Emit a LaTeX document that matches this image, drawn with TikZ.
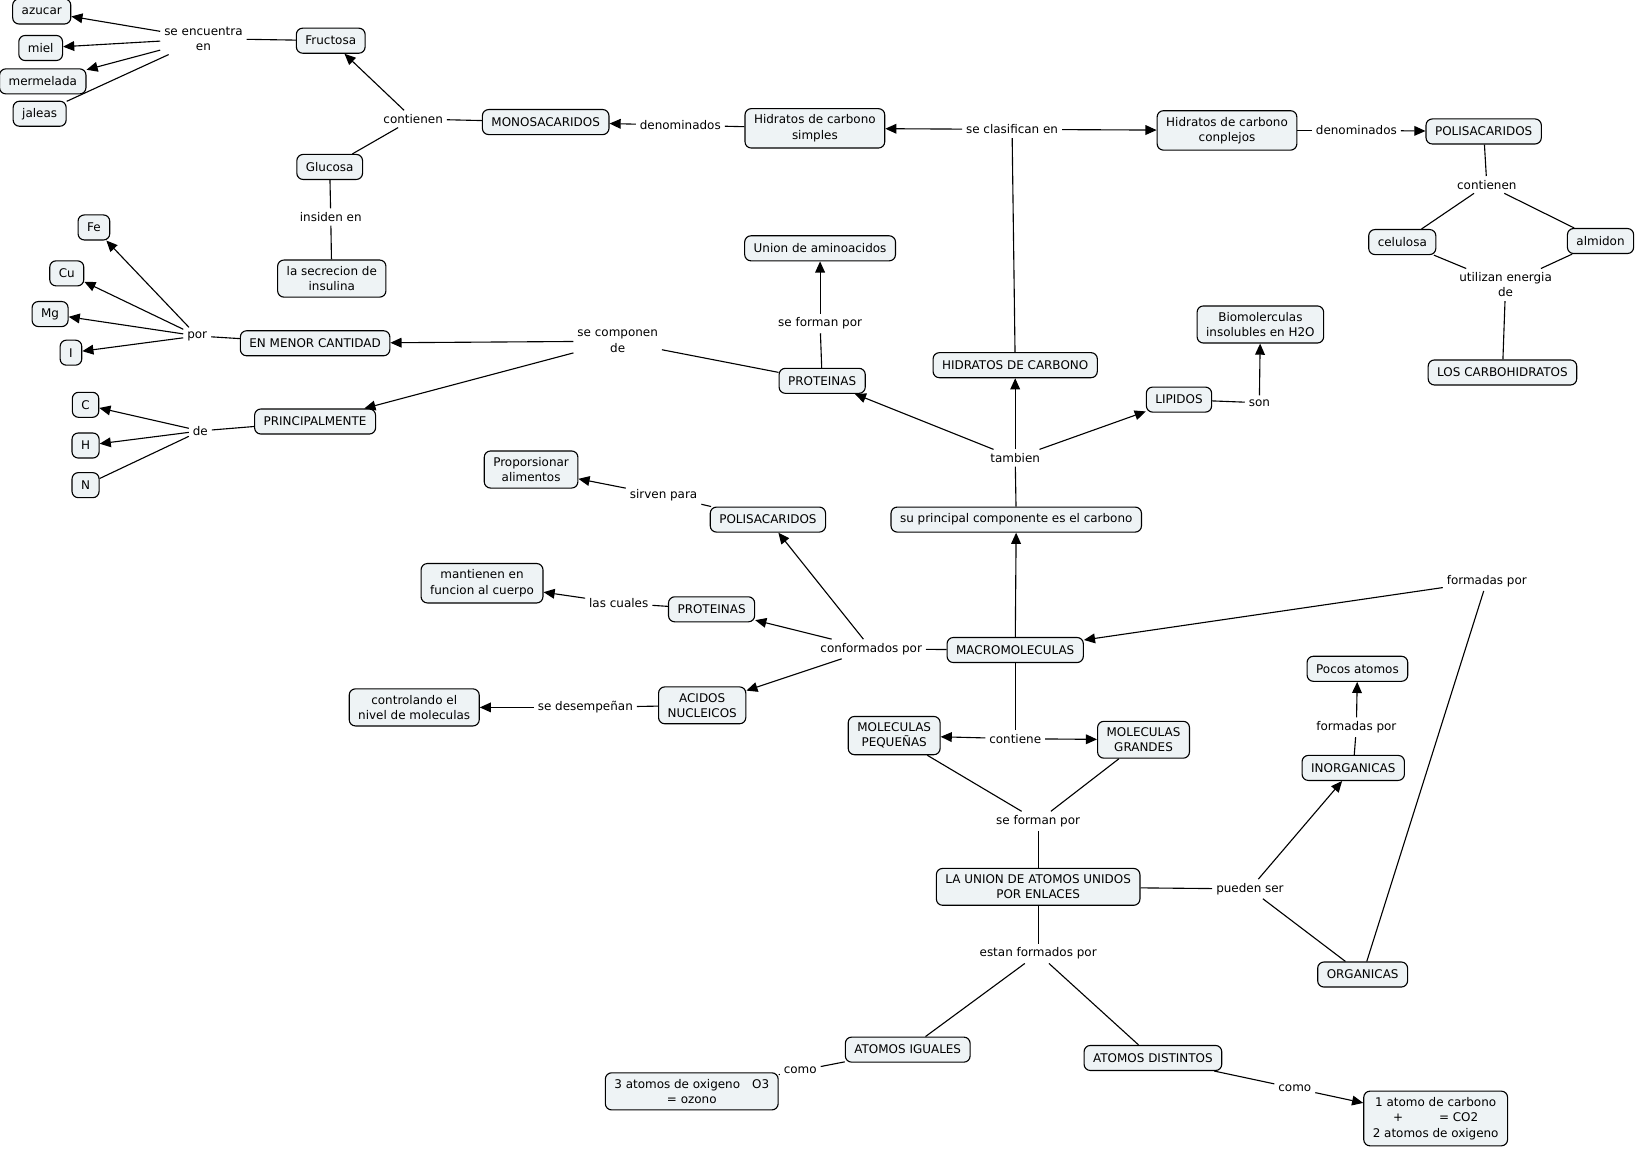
\documentclass[tikz,border=0pt]{standalone}
\usepackage{fontspec}
\setmainfont{DejaVu Sans}
\usetikzlibrary{arrows.meta}
\definecolor{cfill}{RGB}{238,243,245}
\tikzset{every picture/.style={line width=0.8pt}}
\tikzset{
  concept/.style={draw, rounded corners=4.5pt, fill=cfill, align=center, inner xsep=6.5pt, inner ysep=4.5pt, minimum height=18pt, font=\fontsize{8.6}{11}\selectfont},
  phrase/.style={align=center, inner sep=2.5pt, font=\fontsize{8.6}{11}\selectfont},
  arr/.style={-{Triangle[length=8pt,width=7pt]}}
}

\begin{document}
\begin{tikzpicture}[x=0.75pt,y=0.75pt,yscale=-1,xscale=1]
\useasboundingbox (0,0) rectangle (1568,1102);

%Shape: Concepts
\node[concept] (azucar) at (40,11) {azucar};
\node[concept] (miel) at (39,46) {miel};
\node[concept] (mermelada) at (41,78) {mermelada};
\node[concept] (jaleas) at (38,109) {jaleas};
\node[concept] (fructosa) at (317,39) {Fructosa};
\node[concept] (glucosa) at (316,160) {Glucosa};
\node[concept] (insulina) at (318,267) {la secrecion de\\insulina};
\node[concept] (monosac) at (523,117) {MONOSACARIDOS};
\node[concept] (hcsimples) at (781,123) {Hidratos de carbono\\simples};
\node[concept] (hccomplejos) at (1176,125) {Hidratos de carbono\\conplejos};
\node[concept] (polisacA) at (1422,126) {POLISACARIDOS};
\node[concept] (celulosa) at (1344,232) {celulosa};
\node[concept] (almidon) at (1534,231) {almidon};
\node[concept] (carbohidratos) at (1440,357) {LOS CARBOHIDRATOS};
\node[concept] (aminoacidos) at (786,238) {Union de aminoacidos};
\node[concept] (biomol) at (1208,311) {Biomolerculas\\insolubles en H2O};
\node[concept] (fe) at (90,218) {Fe};
\node[concept] (cu) at (64,262) {Cu};
\node[concept] (mg) at (48,301) {Mg};
\node[concept] (yodo) at (68,338) {I};
\node[concept] (menor) at (302,329) {EN MENOR CANTIDAD};
\node[concept] (carbono) at (82,388) {C};
\node[concept] (hidrogeno) at (82,427) {H};
\node[concept] (nitrogeno) at (82,465) {N};
\node[concept] (principal) at (302,404) {PRINCIPALMENTE};
\node[concept] (proteinasA) at (788,365) {PROTEINAS};
\node[concept] (hidratos) at (973,350) {HIDRATOS DE CARBONO};
\node[concept] (lipidos) at (1130,383) {LIPIDOS};
\node[concept] (alimentos) at (509,450) {Proporsionar\\alimentos};
\node[concept] (polisacB) at (736,498) {POLISACARIDOS};
\node[concept] (componente) at (974,498) {su principal componente es el carbono};
\node[concept] (cuerpo) at (462,559) {mantienen en\\funcion al cuerpo};
\node[concept] (proteinasB) at (682,584) {PROTEINAS};
\node[concept] (macro) at (973,623) {MACROMOLECULAS};
\node[concept] (controlando) at (397,678) {controlando el\\nivel de moleculas};
\node[concept] (acidos) at (673,676) {ACIDOS\\NUCLEICOS};
\node[concept] (pequenas) at (857,705) {MOLECULAS\\PEQUEÑAS};
\node[concept] (grandes) at (1096,709) {MOLECULAS\\GRANDES};
\node[concept] (pocos) at (1301,641) {Pocos atomos};
\node[concept] (inorganicas) at (1297,736) {INORGANICAS};
\node[concept] (union) at (995,850) {LA UNION DE ATOMOS UNIDOS\\POR ENLACES};
\node[concept] (organicas) at (1306,934) {ORGANICAS};
\node[concept] (iguales) at (870,1006) {ATOMOS IGUALES};
\node[concept] (distintos) at (1105,1014) {ATOMOS DISTINTOS};
\node[concept] (ozono) at (663,1046) {3 atomos de oxigeno\hspace{1em}O3\\= ozono};
\node[concept] (dioxido) at (1376,1072) {1 atomo de carbono\\+\hspace{3em}= CO2\\2 atomos de oxigeno};

% Text Node: linking phrases
\node[phrase] (encuentra) at (195,37) {se encuentra\\en};
\node[phrase] (contienenA) at (396,114) {contienen};
\node[phrase] (insiden) at (317,208) {insiden en};
\node[phrase] (denomA) at (652,120) {denominados};
\node[phrase] (clasifican) at (970,124) {se clasifican en};
\node[phrase] (denomB) at (1300,125) {denominados};
\node[phrase] (contienenB) at (1425,177) {contienen};
\node[phrase] (energia) at (1443,273) {utilizan energia\\de};
\node[phrase] (formanA) at (786,310) {se forman por};
\node[phrase] (son) at (1207,386) {son};
\node[phrase] (por) at (189,322) {por};
\node[phrase] (componen) at (592,327) {se componen\\de};
\node[phrase] (de) at (192,413) {de};
\node[phrase] (tambien) at (973,439) {tambien};
\node[phrase] (sirven) at (636,475) {sirven para};
\node[phrase] (cuales) at (593,578) {las cuales};
\node[phrase] (conformados) at (835,622) {conformados por};
\node[phrase] (desempenan) at (561,678) {se desempeñan};
\node[phrase] (contiene) at (973,708) {contiene};
\node[phrase] (formadasA) at (1425,557) {formadas por};
\node[phrase] (formadasB) at (1300,697) {formadas por};
\node[phrase] (formanB) at (995,787) {se forman por};
\node[phrase] (pueden) at (1198,852) {pueden ser};
\node[phrase] (estan) at (995,914) {estan formados por};
\node[phrase] (comoA) at (767,1026) {como};
\node[phrase] (comoB) at (1241,1043) {como};

%Straight Lines: top left
\draw (fructosa) -- (encuentra);
\draw[arr] (encuentra) -- (azucar);
\draw[arr] (encuentra) -- (miel);
\draw[arr] (encuentra) -- (mermelada);
\draw (encuentra) -- (jaleas);
\draw (monosac) -- (contienenA);
\draw[arr] (contienenA) -- (fructosa);
\draw (contienenA) -- (glucosa);
\draw (glucosa) -- (insiden);
\draw (insiden) -- (insulina);
\draw (hcsimples) -- (denomA);
\draw[arr] (denomA) -- (monosac);

%Straight Lines: top right
\draw (hidratos) -- (clasifican);
\draw[arr] (clasifican) -- (hcsimples);
\draw[arr] (clasifican) -- (hccomplejos);
\draw (hccomplejos) -- (denomB);
\draw[arr] (denomB) -- (polisacA);
\draw (polisacA) -- (contienenB);
\draw (contienenB) -- (celulosa);
\draw (contienenB) -- (almidon);
\draw (celulosa) -- (energia);
\draw (almidon) -- (energia);
\draw (energia) -- (carbohidratos);

%Straight Lines: proteinas, lipidos
\draw (proteinasA) -- (formanA);
\draw[arr] (formanA) -- (aminoacidos);
\draw (lipidos) -- (son);
\draw[arr] (son) -- (biomol);
\draw (proteinasA) -- (componen);
\draw[arr] (componen) -- (menor);
\draw[arr] (componen) -- (principal);
\draw (menor) -- (por);
\draw[arr] (por) -- (fe);
\draw[arr] (por) -- (cu);
\draw[arr] (por) -- (mg);
\draw[arr] (por) -- (yodo);
\draw (principal) -- (de);
\draw[arr] (de) -- (carbono);
\draw[arr] (de) -- (hidrogeno);
\draw (de) -- (nitrogeno);
\draw (componente) -- (tambien);
\draw[arr] (tambien) -- (proteinasA);
\draw[arr] (tambien) -- (hidratos);
\draw[arr] (tambien) -- (lipidos);

%Straight Lines: macromoleculas
\draw[arr] (macro) -- (componente);
\draw (macro) -- (conformados);
\draw[arr] (conformados) -- (polisacB);
\draw[arr] (conformados) -- (proteinasB);
\draw[arr] (conformados) -- (acidos);
\draw (polisacB) -- (sirven);
\draw[arr] (sirven) -- (alimentos);
\draw (proteinasB) -- (cuales);
\draw[arr] (cuales) -- (cuerpo);
\draw (acidos) -- (desempenan);
\draw[arr] (desempenan) -- (controlando);
\draw (macro) -- (contiene);
\draw[arr] (contiene) -- (pequenas);
\draw[arr] (contiene) -- (grandes);
\draw (organicas) -- (formadasA);
\draw[arr] (formadasA) -- (macro);

%Straight Lines: bottom
\draw (pequenas) -- (formanB);
\draw (grandes) -- (formanB);
\draw (formanB) -- (union);
\draw (union) -- (pueden);
\draw[arr] (pueden) -- (inorganicas);
\draw (pueden) -- (organicas);
\draw (inorganicas) -- (formadasB);
\draw[arr] (formadasB) -- (pocos);
\draw (union) -- (estan);
\draw (estan) -- (iguales);
\draw (estan) -- (distintos);
\draw (iguales) -- (comoA);
\draw (comoA) -- (ozono);
\draw (distintos) -- (comoB);
\draw[arr] (comoB) -- (dioxido);

\end{tikzpicture}
\end{document}
